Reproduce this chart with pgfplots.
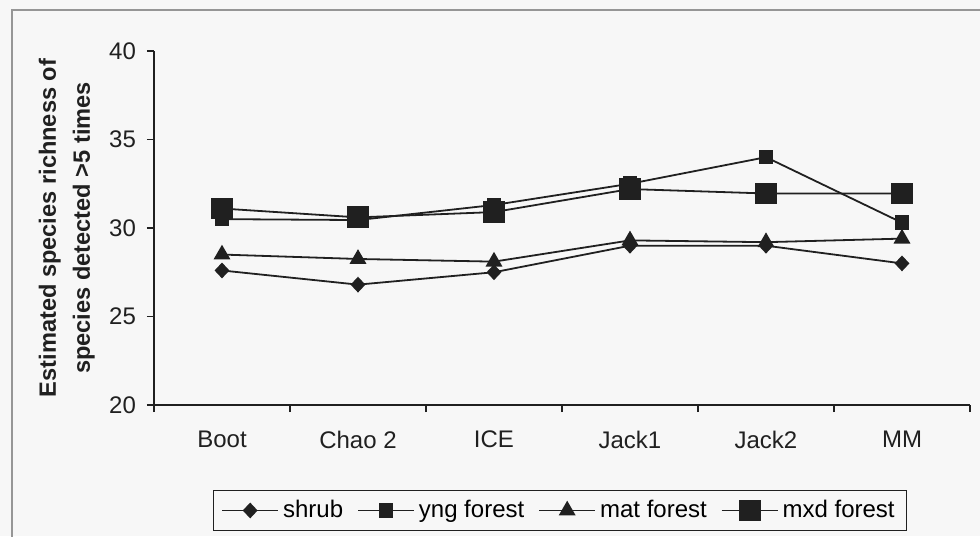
\documentclass[border=0pt]{standalone}
\usepackage{pgfplots}
\pgfplotsset{compat=1.18}
\usepackage{fontspec}
\setmainfont{Liberation Sans}

\definecolor{bg}{RGB}{247,247,247}
\definecolor{ink}{RGB}{32,32,32}
\definecolor{frame}{RGB}{150,150,150}

% estimator, shrub, yng forest, mat forest, mxd forest
\pgfplotstableread{
x shrub yng mat mxd
0 27.6 30.5  28.5  31.1
1 26.8 30.45 28.25 30.6
2 27.5 31.3  28.1  30.9
3 29.0 32.5  29.3  32.2
4 29.0 34.0  29.2  31.95
5 28.0 30.3  29.4  31.95
}\richness

\begin{document}
\begin{tikzpicture}
\path[use as bounding box, fill=bg] (0,0) rectangle (490pt,268pt);
\draw[frame, line width=0.6pt] (6pt,-5pt) -- (6pt,263pt) -- (495pt,263pt);
\begin{axis}[
  at={(77pt,65.5pt)}, anchor=south west,
  scale only axis, width=408pt, height=177pt,
  xmin=-0.5, xmax=5.5, ymin=20, ymax=40,
  axis x line*=bottom, axis y line*=left,
  axis line style={ink, line width=0.6pt},
  tick align=outside,
  major tick length=3.5pt, minor tick length=3.5pt,
  ytick={20,25,...,40},
  xtick={0,...,5},
  xticklabels={Boot,Chao 2,ICE,Jack1,Jack2,MM},
  minor xtick={-0.5,0.5,...,5.5},
  major x tick style={draw=none},
  minor x tick style={ink, line width=0.6pt},
  major y tick style={ink, line width=0.6pt},
  tick label style={font=\fontsize{12}{14}\selectfont, text=ink},
  /pgf/number format/assume math mode=true,
  xticklabel style={yshift=-6pt},
  yticklabel style={xshift=-2pt},
  ylabel={Estimated species richness of\\species detected >5 times},
  every axis y label/.style={at={(axis description cs:-0.107,0.5)}, rotate=90, anchor=center,
    align=center, font=\bfseries\fontsize{11.8}{17}\selectfont, text=ink},
  legend columns=4,
  legend style={at={(axis description cs:0.4975,-0.298)}, anchor=center,
    draw=ink, line width=0.5pt, fill=none, font=\fontsize{12}{14}\selectfont,
    inner xsep=4pt, inner ysep=3pt,
    /tikz/every even column/.append style={column sep=5pt}},
  legend image code/.code={
    \draw[mark repeat=2, mark phase=2] plot coordinates {(0pt,0pt) (14pt,0pt) (28pt,0pt)};},
  every axis plot/.append style={ink, line width=0.9pt, mark options={solid, fill=ink}},
]
\addplot[mark=diamond*, mark size=3.3pt, mark options={xscale=1.25}] table[x=x, y=shrub] {\richness};
\addlegendentry{shrub}
\addplot[mark=square*, mark size=3.2pt] table[x=x, y=yng] {\richness};
\addlegendentry{yng forest}
\addplot[mark=triangle*, mark size=4pt] table[x=x, y=mat] {\richness};
\addlegendentry{mat forest}
\addplot[mark=square*, mark size=5pt] table[x=x, y=mxd] {\richness};
\addlegendentry{mxd forest}
\end{axis}
\end{tikzpicture}
\end{document}
